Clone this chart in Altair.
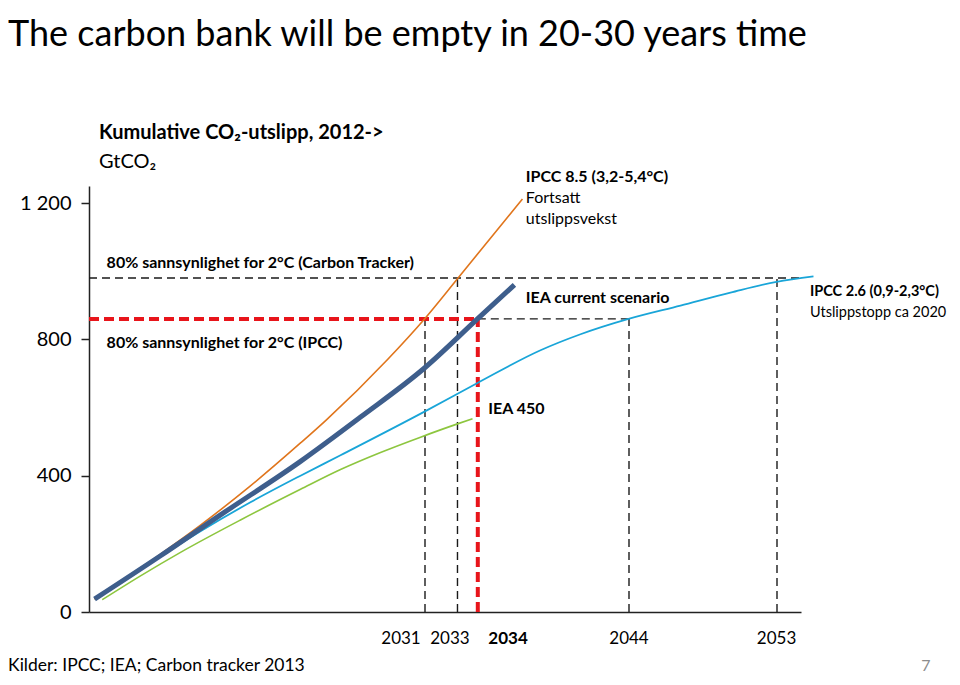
import altair as alt
import pandas as pd

# ---------------- data ----------------
# cumulative CO2 emissions from 2012, GtCO2
ipcc85_year = [2010.34, 2014.47, 2016.97, 2020.09, 2023.22, 2024.84, 2028.66, 2030.97, 2033.03, 2037.09]
ipcc85_val = [38, 170, 255, 370, 496, 564, 741, 860, 978, 1212]

iea_cur_year = [2010.35, 2014.47, 2018.22, 2023.22, 2026.97, 2030.97, 2034.28, 2036.59]
iea_cur_val = [38, 165, 285, 442, 572, 716, 860, 960]

ipcc26_year = [2010.34, 2014.47, 2016.97, 2020.09, 2023.22, 2025.72, 2030.97, 2034.28,
               2038.22, 2040.72, 2043.72, 2046.97, 2050.09, 2052.97, 2055.28]
ipcc26_val = [38, 163, 237, 322, 400, 460, 588, 672, 768, 815, 860, 899, 937, 969, 985]

iea450_year = [2010.83, 2013.22, 2015.72, 2019.47, 2023.22, 2025.72, 2028.22, 2030.72, 2033.03, 2033.97]
iea450_val = [36, 106, 175, 270, 360, 418, 468, 513, 552, 567]

# carbon budgets (GtCO2)
budget_ct = 980     # 80% for 2C (Carbon Tracker)
budget_ipcc = 860   # 80% for 2C (IPCC)

# years where the budgets are used up
black_vline_x = [2031, 2033.03, 2043.75, 2053]
black_vline_top = [budget_ipcc, budget_ct, budget_ipcc, budget_ct]
red_vline_x = [2034.3]

# x tick labels
tick_text = ["2031", "2033", "2044", "2053"]
tick_pos = [2029.5, 2032.56, 2043.75, 2052.97]
tick_bold_text = ["2034"]
tick_bold_pos = [2036.19]

YEAR0, YEAR1 = 2010, 2054.5
VMAX = 1250
FONT = "Lato"

x_scale = alt.Scale(domain=[YEAR0, YEAR1], nice=False, zero=False)
y_scale = alt.Scale(domain=[0, VMAX], nice=False, zero=True)

x_axis = alt.Axis(title=None, labels=False, ticks=False, grid=False,
                  domainColor="#222222", domainWidth=1.5)
y_axis = alt.Axis(title=None, values=[0, 400, 800, 1200], grid=False,
                  labelExpr="replace(format(datum.value, ','), ',', ' ')",
                  tickSize=8, tickWidth=1.5, tickColor="#222222",
                  domainColor="#222222", domainWidth=1.5,
                  labelFont=FONT, labelFontSize=20, labelColor="#000000",
                  labelPadding=10)


def X(f):
    return alt.X(f"{f}:Q", scale=x_scale, axis=x_axis)


def Y(f):
    return alt.Y(f"{f}:Q", scale=y_scale, axis=y_axis)


def curve(years, vals, color, width):
    df = pd.DataFrame({"year": years, "val": vals})
    return alt.Chart(df).mark_line(color=color, strokeWidth=width, interpolate="monotone",
                                   strokeCap="butt").encode(x=X("year"), y=Y("val"))


# ---------------- rules ----------------
hl_black = pd.DataFrame({"y": [budget_ct, budget_ipcc],
                         "x": [YEAR0, red_vline_x[0]],
                         "x2": [YEAR1, black_vline_x[2]]})
hl_red = pd.DataFrame({"y": [budget_ipcc], "x": [YEAR0], "x2": [red_vline_x[0]]})
vl_black = pd.DataFrame({"x": black_vline_x, "y": [0] * 4, "y2": black_vline_top})
vl_red = pd.DataFrame({"x": red_vline_x, "y": [0], "y2": [budget_ipcc]})

black_dash = dict(color="#1a1a1a", strokeWidth=1.4, strokeDash=[8, 5])
red_dash = dict(color="#E8151B", strokeWidth=4, strokeDash=[10, 5])

r1 = alt.Chart(hl_black).mark_rule(**black_dash).encode(x=X("x"), x2="x2:Q", y=Y("y"))
r2 = alt.Chart(vl_black).mark_rule(**black_dash).encode(x=X("x"), y=Y("y"), y2="y2:Q")
r3 = alt.Chart(hl_red).mark_rule(**red_dash).encode(x=X("x"), x2="x2:Q", y=Y("y"))
r4 = alt.Chart(vl_red).mark_rule(**red_dash).encode(x=X("x"), y=Y("y"), y2="y2:Q")

c_green = curve(iea450_year, iea450_val, "#8DC63F", 1.6)
c_lblue = curve(ipcc26_year, ipcc26_val, "#19A5D8", 1.8)
c_orange = curve(ipcc85_year, ipcc85_val, "#E0751C", 1.6)
c_blue = curve(iea_cur_year, iea_cur_val, "#3E5E8C", 5)


# ---------------- texts ----------------
def texts(labels, xs, ys, size, weight="normal", color="#000000", align="left"):
    df = pd.DataFrame({"label": labels, "x": xs, "y": ys})
    return alt.Chart(df).mark_text(font=FONT, fontSize=size, fontWeight=weight, color=color,
                                   align=align, baseline="alphabetic").encode(
        x=X("x"), y=Y("y"), text="label:N")


t_title = texts(["The carbon bank will be empty in 20-30 years time"], [2004.94], [1661], 36)
t_head_b = texts(["Kumulative CO\u2082-utslipp, 2012->"], [2010.625], [1387], 20, "bold")
t_head = texts(["GtCO\u2082"], [2010.625], [1303.7], 20)
t_bold = texts(["80% sannsynlighet for 2\u00b0C (Carbon Tracker)",
                "80% sannsynlighet for 2\u00b0C (IPCC)",
                "IPCC 8.5 (3,2-5,4\u00b0C)",
                "IEA current scenario",
                "IEA 450"],
               [2011.1, 2011.1, 2037.3, 2037.3, 2034.96],
               [1008.5, 773.8, 1262.6, 905.8, 580], 16, "bold")
t_bold2 = texts(["IPCC 2.6 (0,9-2,3\u00b0C)"], [2055.06], [928], 14.5, "bold")
t_reg = texts(["Fortsatt", "utslippsvekst"],
              [2037.3, 2037.3], [1201, 1138.5], 16)
t_reg2 = texts(["Utslippstopp ca 2020"], [2055.06], [864.7], 14.5)
t_ticks = texts(tick_text, tick_pos, [-95] * 4, 17, align="center")
t_ticks_b = texts(tick_bold_text, tick_bold_pos, [-95], 17, "bold", align="center")
t_src = texts(["Kilder: IPCC; IEA; Carbon tracker 2013"], [2004.94], [-172], 17.5)
t_page = texts(["7"], [2062.3], [-172], 16, color="#8C8C8C", align="center")

chart = alt.layer(
    r1, r2, r3, r4, c_green, c_lblue, c_orange, c_blue,
    t_title, t_head_b, t_head, t_bold, t_bold2, t_reg, t_reg2, t_ticks, t_ticks_b, t_src, t_page
).properties(
    width=712, height=426,
    autosize=alt.AutoSizeParams(type="none"),
    padding={"left": 81, "top": 178, "right": 151, "bottom": 65},
    background="white",
).configure_view(stroke=None)

chart.save("out.html", embed_options={"renderer": "svg", "actions": False})
